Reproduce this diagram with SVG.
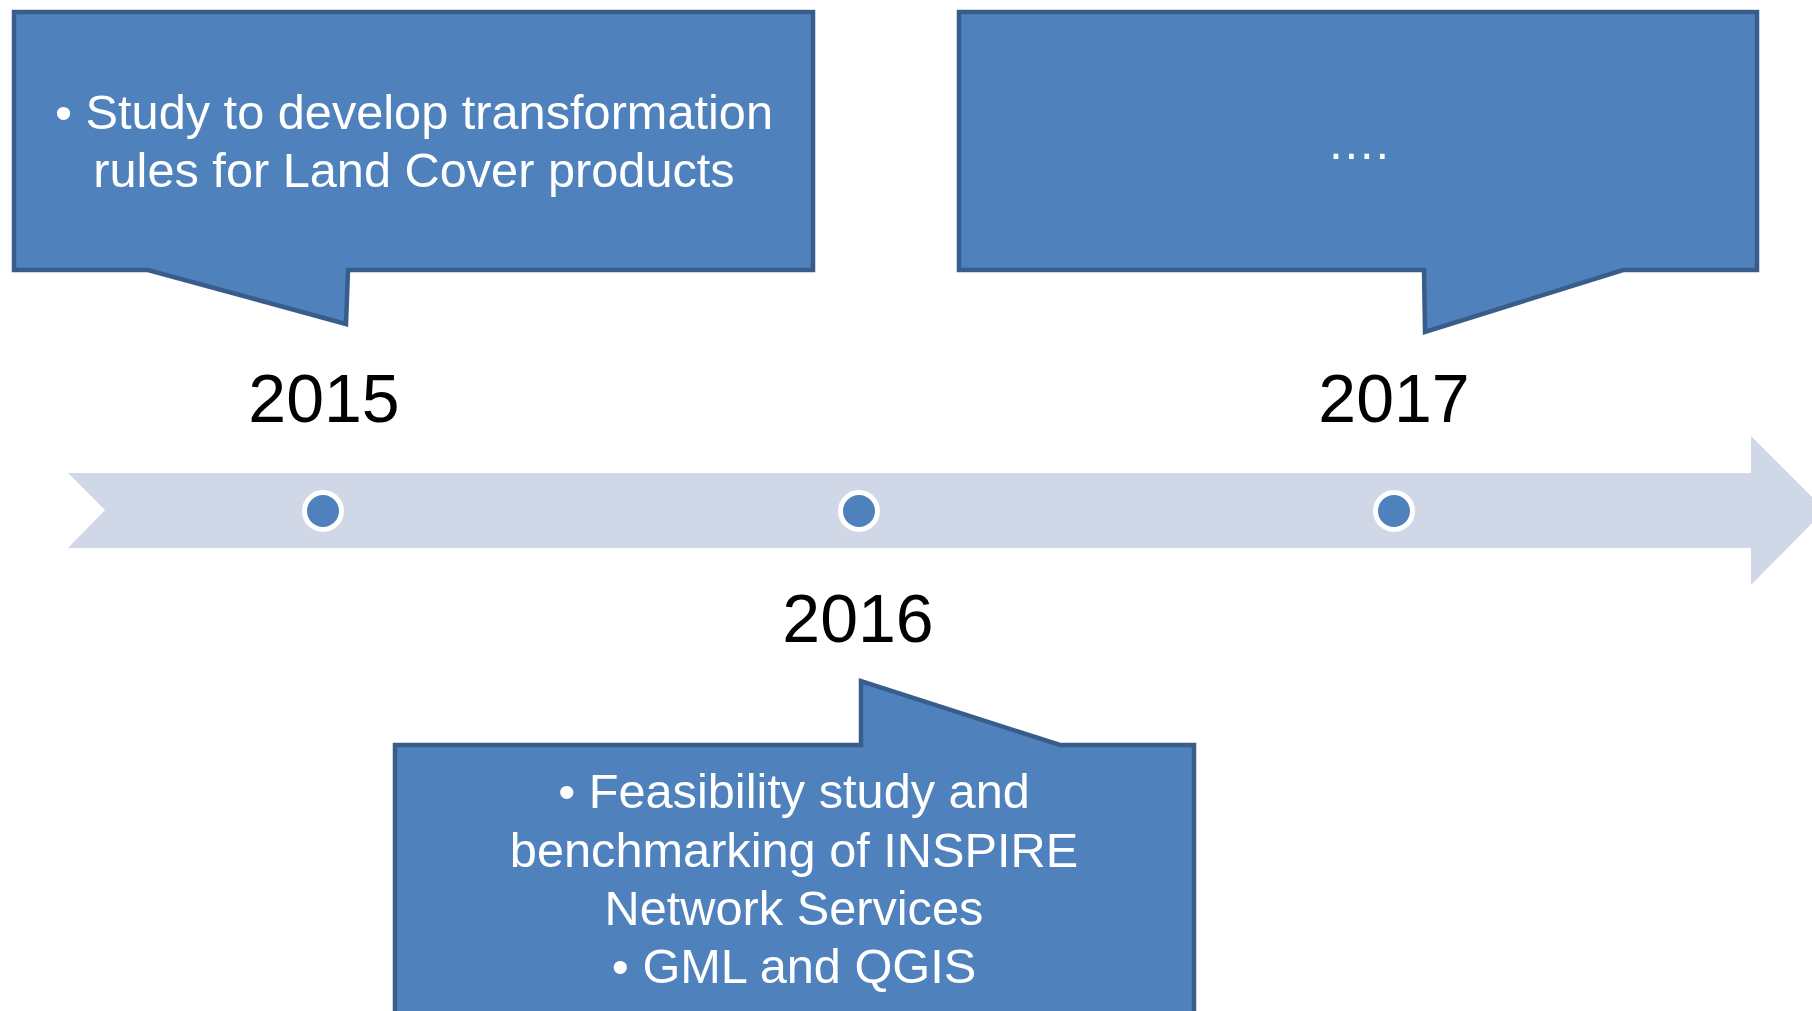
<svg xmlns="http://www.w3.org/2000/svg" width="1812" height="1011" viewBox="0 0 1812 1011">
<style>
.callout{fill:#4F81BD;stroke:#385D8A;stroke-width:4.5;stroke-linejoin:miter}
.ctext{font-family:"Liberation Sans",Arial,sans-serif;font-size:48.7px;fill:#FFFFFF;text-anchor:middle}
.year{font-family:"Liberation Sans",Arial,sans-serif;font-size:68px;fill:#000000;text-anchor:middle}
.dot{fill:#4F81BD;stroke:#FFFFFF;stroke-width:5}
</style>
<rect width="1812" height="1011" fill="#FFFFFF"/>
<g id="timeline">
<polygon points="68,473 1751,473 1751,436 1825,510 1751,585 1751,548 68,548 105,510" fill="#D0D8E8"/>
</g>
<g id="markers">
<circle class="dot" cx="323" cy="511" r="18.5"/>
<circle class="dot" cx="859" cy="511" r="18.5"/>
<circle class="dot" cx="1394" cy="511" r="18.5"/>
</g>
<g id="year-2015"><text class="year" x="324" y="422">2015</text></g>
<g id="year-2016"><text class="year" x="858" y="642">2016</text></g>
<g id="year-2017"><text class="year" x="1394" y="422">2017</text></g>
<g id="callout-2015">
<path class="callout" d="M14,12 L813,12 L813,270 L348,270 L346,324 L148,270 L14,270 Z"/>
<text class="ctext" x="414" y="129">• Study to develop transformation</text>
<text class="ctext" x="414" y="187">rules for Land Cover products</text>
</g>
<g id="callout-2017">
<path class="callout" d="M959,12 L1757,12 L1757,270 L1623,270 L1425,332 L1424,270 L959,270 Z"/>
<text class="ctext" x="1358" y="159">….</text>
</g>
<g id="callout-2016">
<path class="callout" d="M395,745 L861,745 L861,681 L1060,745 L1194,745 L1194,1025 L395,1025 Z"/>
<text class="ctext" x="794" y="808">• Feasibility study and</text>
<text class="ctext" x="794" y="867">benchmarking of INSPIRE</text>
<text class="ctext" x="794" y="925">Network Services</text>
<text class="ctext" x="794" y="983">• GML and QGIS</text>
</g>
<g id="connectors"></g>
</svg>
